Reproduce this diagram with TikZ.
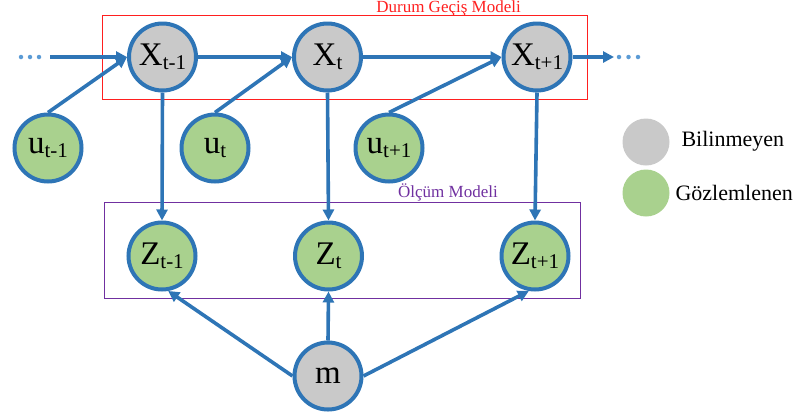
\documentclass[tikz,border=0pt]{standalone}
\usepackage{fontspec}
\setmainfont{Liberation Serif}
\usetikzlibrary{arrows.meta}
\definecolor{edge}{HTML}{2E75B6}
\definecolor{dotc}{HTML}{5B9BD5}
\definecolor{unk}{HTML}{C9C9C9}
\definecolor{obs}{HTML}{A9D18E}
\definecolor{redbox}{HTML}{FF1F1F}
\definecolor{purp}{HTML}{7030A0}
\newcommand{\lbl}[2]{#1\raisebox{-0.3ex}{\fontsize{21}{21}\selectfont #2}}
\tikzset{
  var/.style={circle, draw=edge, line width=4pt, minimum size=67pt, inner sep=0pt, font=\fontsize{33}{33}\selectfont},
  unkv/.style={var, fill=unk},
  obsv/.style={var, fill=obs},
  conn/.style={draw=edge, line width=3.6pt, -{Triangle[length=11pt,width=11pt]}},
  legc/.style={circle, minimum size=47pt, inner sep=0pt},
  dotpt/.style={circle, fill=dotc, minimum size=4.5pt, inner sep=0pt},
  boxlbl/.style={font=\fontsize{17}{17}\selectfont, inner sep=0pt, anchor=east},
}
\begin{document}
\begin{tikzpicture}[x=1pt,y=-1pt]
\useasboundingbox (0,0) rectangle (797,416);
% boxes
\draw[redbox, line width=0.9pt] (102,15) rectangle (587,99);
\node[boxlbl, text=redbox] (lred) at (521,8) {Durum Geçiş Modeli};
\draw[purp, line width=0.9pt] (104,202) rectangle (580,298);
\node[boxlbl, text=purp] (lpur) at (498,192) {Ölçüm Modeli};
% nodes
\node[unkv] (x1) at (162.5,57) {\lbl{X}{t-1}};
\node[unkv] (x2) at (327.5,57) {\lbl{X}{t}};
\node[unkv] (x3) at (537,57) {\lbl{X}{t+1}};
\node[obsv] (u1) at (48,148) {\lbl{u}{t-1}};
\node[obsv] (u2) at (215,148) {\lbl{u}{t}};
\node[obsv] (u3) at (389,148) {\lbl{u}{t+1}};
\node[obsv] (z1) at (162,256) {\lbl{Z}{t-1}};
\node[obsv] (z2) at (328.5,256) {\lbl{Z}{t}};
\node[obsv] (z3) at (535,256) {\lbl{Z}{t+1}};
\node[unkv] (m) at (328,376) {m};
% dots
\node[dotpt] (dl1) at (21,57) {};
\node[dotpt] (dl2) at (30,57) {};
\node[dotpt] (dl3) at (39,57) {};
\node[dotpt] (dr1) at (619,57) {};
\node[dotpt] (dr2) at (628.5,57) {};
\node[dotpt] (dr3) at (638,57) {};
\coordinate (lin) at (50,57);
\coordinate (rout) at (614,57);
% connectors
\draw[conn] (lin) -- (x1.west);
\draw[conn] (x1) -- (x2.west);
\draw[conn] (x2) -- (x3.west);
\draw[conn] (x3.east) -- (rout);
\draw[conn] (u1.north) -- (x1.west);
\draw[conn] (u2.north) -- (x2.west);
\draw[conn] (u3.north) -- (x3.west);
\draw[conn] (x1.south) -- (z1.north);
\draw[conn] (x2.south) -- (z2.north);
\draw[conn] (x3.south) -- (z3.north);
\draw[conn] (m.west) -- (z1.-80);
\draw[conn] (m.north) -- (z2.south);
\draw[conn] (m.east) -- (z3.-100);
% legend
\node[legc, fill=unk] (lg1) at (646,142) {};
\node[legc, fill=obs] (lg2) at (646,193) {};
\node[anchor=west, font=\fontsize{22}{22}\selectfont] (t1) at (678,141) {Bilinmeyen};
\node[anchor=west, font=\fontsize{22}{22}\selectfont] (t2) at (672,193) {Gözlemlenen};
\end{tikzpicture}
\end{document}
